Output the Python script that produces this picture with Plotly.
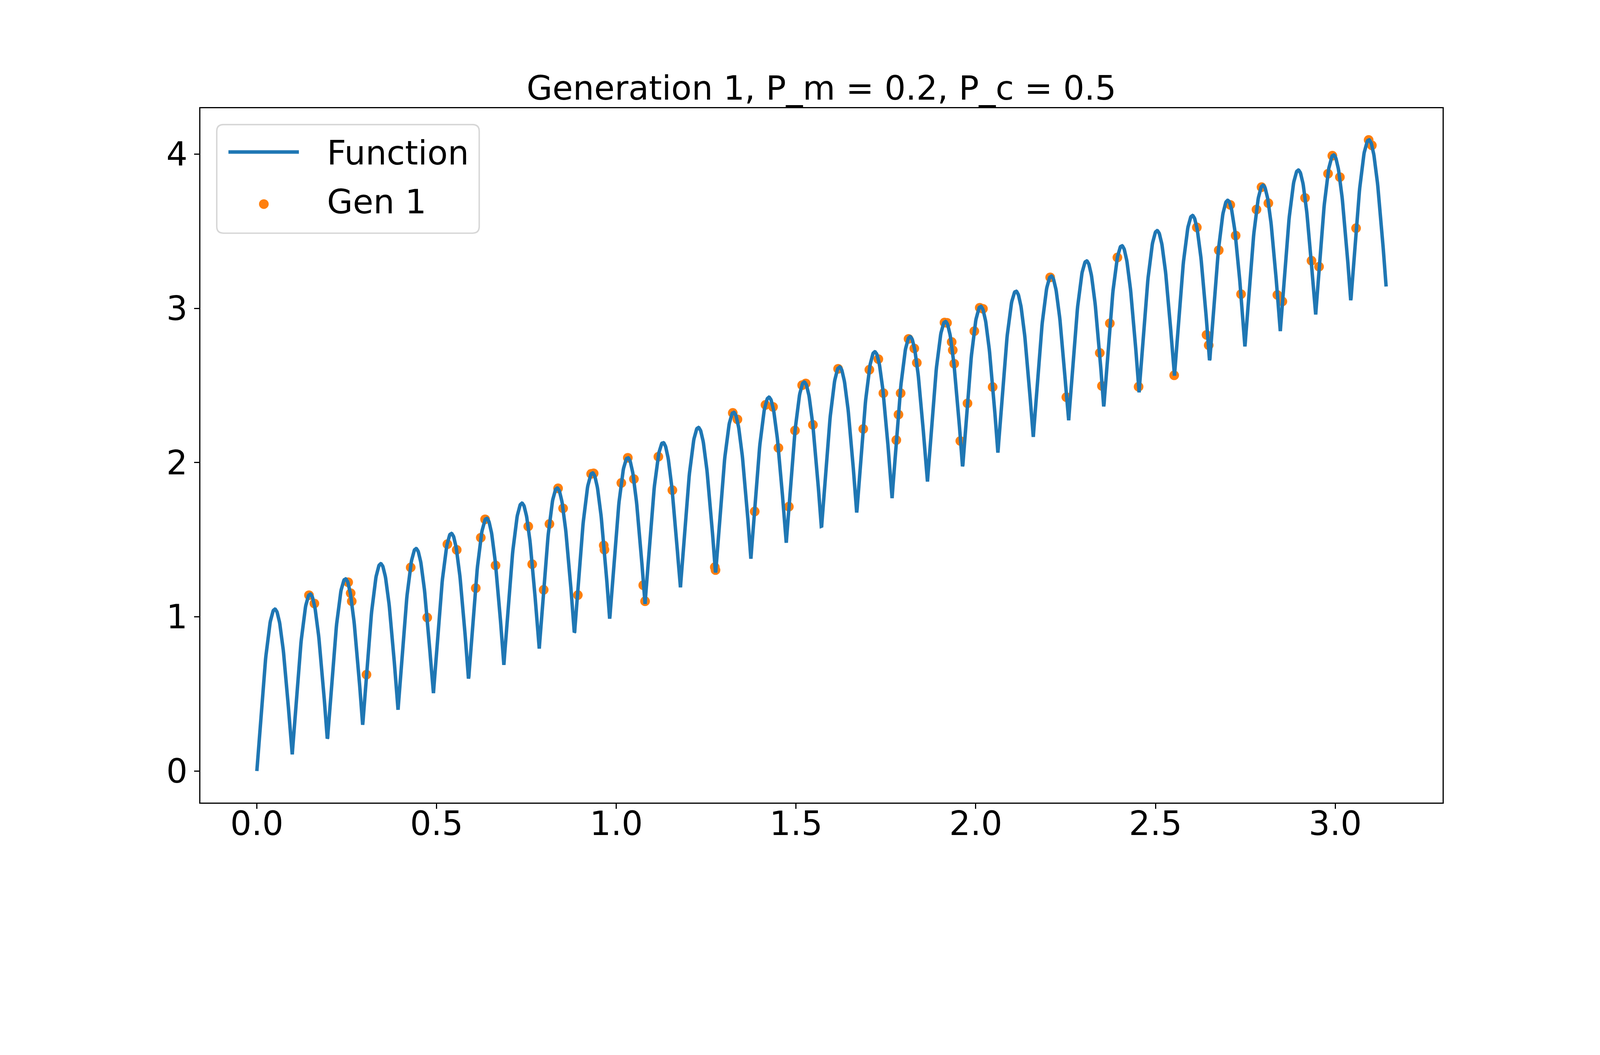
import numpy as np
import plotly.graph_objects as go

# ---- data ---------------------------------------------------------------
title_text = 'Generation 1, P_m = 0.2, P_c = 0.5'
legend_labels = ['Function', 'Gen 1']

# fitness curve: f(x) = x + |sin(32 x)| on [0, pi]
curve_freq = 32
curve_x_max = np.pi
curve_points = 3000

# population of generation 1
gen_x = [0.145, 0.160, 0.254, 0.261, 0.264, 0.305, 0.428, 0.474, 0.530, 0.556,
         0.609, 0.623, 0.635, 0.664, 0.755, 0.766, 0.798, 0.814, 0.838, 0.852,
         0.893, 0.930, 0.937, 0.965, 0.967, 1.014, 1.032, 1.049, 1.075, 1.080,
         1.117, 1.156, 1.274, 1.276, 1.324, 1.337, 1.385, 1.415, 1.436, 1.451,
         1.480, 1.497, 1.517, 1.527, 1.547, 1.617, 1.687, 1.704, 1.729, 1.743,
         1.779, 1.785, 1.791, 1.813, 1.829, 1.836, 1.913, 1.920, 1.933, 1.936,
         1.940, 1.957, 1.977, 1.996, 2.011, 2.020, 2.047, 2.207, 2.252, 2.345,
         2.351, 2.373, 2.394, 2.453, 2.552, 2.615, 2.642, 2.648, 2.676, 2.708,
         2.723, 2.738, 2.781, 2.795, 2.814, 2.839, 2.853, 2.916, 2.934, 2.955,
         2.980, 2.992, 3.013, 3.058, 3.093, 3.102]
gen_y = [1.140, 1.086, 1.224, 1.153, 1.101, 0.625, 1.320, 0.995, 1.471, 1.434,
         1.186, 1.513, 1.632, 1.333, 1.586, 1.341, 1.175, 1.602, 1.833, 1.703,
         1.141, 1.927, 1.930, 1.463, 1.435, 1.868, 2.031, 1.893, 1.205, 1.101,
         2.038, 1.821, 1.322, 1.303, 2.322, 2.280, 1.683, 2.374, 2.361, 2.095,
         1.714, 2.208, 2.502, 2.513, 2.245, 2.608, 2.218, 2.602, 2.671, 2.450,
         2.146, 2.311, 2.450, 2.802, 2.740, 2.647, 2.908, 2.906, 2.782, 2.729,
         2.641, 2.140, 2.384, 2.852, 3.004, 2.997, 2.490, 3.201, 2.424, 2.711,
         2.497, 2.903, 3.330, 2.492, 2.566, 3.525, 2.828, 2.761, 3.377, 3.671,
         3.472, 3.092, 3.641, 3.786, 3.682, 3.087, 3.045, 3.716, 3.309, 3.270,
         3.873, 3.990, 3.851, 3.520, 4.092, 4.057]

x_tick_vals = [0.0, 0.5, 1.0, 1.5, 2.0, 2.5, 3.0]
y_tick_vals = [0, 1, 2, 3, 4]

# ---- style --------------------------------------------------------------
# sizes are in screenshot pixels; S maps them to css pixels
# (the browser renders at ~1.17x), BODY is the default page margin
S = 1 / 1.17
BODY = 8
W, H = 4800, 2700
L, R, T, B = 600, 4320, 324, 2403     # plot area (matplotlib default fractions)
blue = '#1f77b4'
orange = '#ff7f0e'
font = 'DejaVu Sans'
fs = 100
line_w = 10.4
dot_size = 29


def px(xp, yp):
    # screenshot pixel -> paper coordinates
    return (xp - L) / (R - L), (B - yp) / (B - T)


curve_x = np.linspace(0, curve_x_max, curve_points)
curve_y = curve_x + np.abs(np.sin(curve_freq * curve_x))

# matplotlib style 5% margins
x_lo, x_hi = curve_x.min(), curve_x.max()
y_lo, y_hi = min(curve_y.min(), min(gen_y)), max(curve_y.max(), max(gen_y))
xm = (x_hi - x_lo) * 0.05
ym = (y_hi - y_lo) * 0.05

fig = go.Figure()
# scatter first: matplotlib draws lines above collections
fig.add_trace(go.Scatter(x=gen_x, y=gen_y, mode='markers', name=legend_labels[1],
                         marker=dict(color=orange, size=dot_size * S, line=dict(width=0))))
fig.add_trace(go.Scatter(x=curve_x, y=curve_y, mode='lines', name=legend_labels[0],
                         line=dict(color=blue, width=line_w * S)))

axis_common = dict(showgrid=False, zeroline=False, showline=True, mirror=True,
                   linecolor='black', linewidth=3.3 * S, ticks='outside',
                   ticklen=15 * S, tickwidth=3.3 * S, tickcolor='black',
                   tickfont=dict(family=font, size=fs * S, color='black'))
fig.update_xaxes(range=[x_lo - xm, x_hi + xm], tickvals=x_tick_vals,
                 tickformat='.1f', ticklabelstandoff=-35, **axis_common)
fig.update_yaxes(range=[y_lo - ym, y_hi + ym], tickvals=y_tick_vals,
                 tickformat='d', **axis_common)

# ---- hand drawn legend (matplotlib look) ---------------------------------
shapes = []
bx0, by0 = px(649, 698)
bx1, by1 = px(1435, 373)
rx, ry = 20 / (R - L), 20 / (B - T)
path = (f'M{bx0 + rx},{by0} L{bx1 - rx},{by0} Q{bx1},{by0} {bx1},{by0 + ry} '
        f'L{bx1},{by1 - ry} Q{bx1},{by1} {bx1 - rx},{by1} '
        f'L{bx0 + rx},{by1} Q{bx0},{by1} {bx0},{by1 - ry} '
        f'L{bx0},{by0 + ry} Q{bx0},{by0} {bx0 + rx},{by0} Z')
shapes.append(dict(type='path', xref='paper', yref='paper', path=path,
                   fillcolor='rgba(255,255,255,0.8)',
                   line=dict(color='rgba(204,204,204,0.8)', width=4.2 * S)))
lx0, ly = px(684, 455)
lx1, _ = px(895, 455)
shapes.append(dict(type='line', xref='paper', yref='paper', x0=lx0, x1=lx1,
                   y0=ly, y1=ly, line=dict(color=blue, width=line_w * S)))
cx0, cy0 = px(790 - dot_size / 2, 611 + dot_size / 2)
cx1, cy1 = px(790 + dot_size / 2, 611 - dot_size / 2)
shapes.append(dict(type='circle', xref='paper', yref='paper', x0=cx0, x1=cx1,
                   y0=cy0, y1=cy1, fillcolor=orange, line=dict(width=0)))

annotations = []
tx, ty1 = px(977, 458)
_, ty2 = px(977, 604)
for label, yy in zip(legend_labels, [ty1, ty2]):
    annotations.append(dict(text=label, xref='paper', yref='paper', x=tx, y=yy,
                            xanchor='left', yanchor='middle', showarrow=False,
                            font=dict(family=font, size=fs * S, color='black')))
ttx, tty = px((L + R) / 2, 264)
annotations.append(dict(text=title_text, xref='paper', yref='paper', x=ttx, y=tty,
                        xanchor='center', yanchor='middle', showarrow=False,
                        font=dict(family=font, size=fs * S, color='black')))

# the page body margin pushes the div by BODY px: take it off the left/top margins
fig.update_layout(width=round(W * S) - BODY, height=round(H * S) - BODY,
                  showlegend=False,
                  margin=dict(l=L * S - BODY, r=(W - R) * S, t=T * S - BODY,
                              b=(H - B) * S, autoexpand=False),
                  paper_bgcolor='white', plot_bgcolor='white',
                  shapes=shapes, annotations=annotations)

fig.write_html('out.html')
